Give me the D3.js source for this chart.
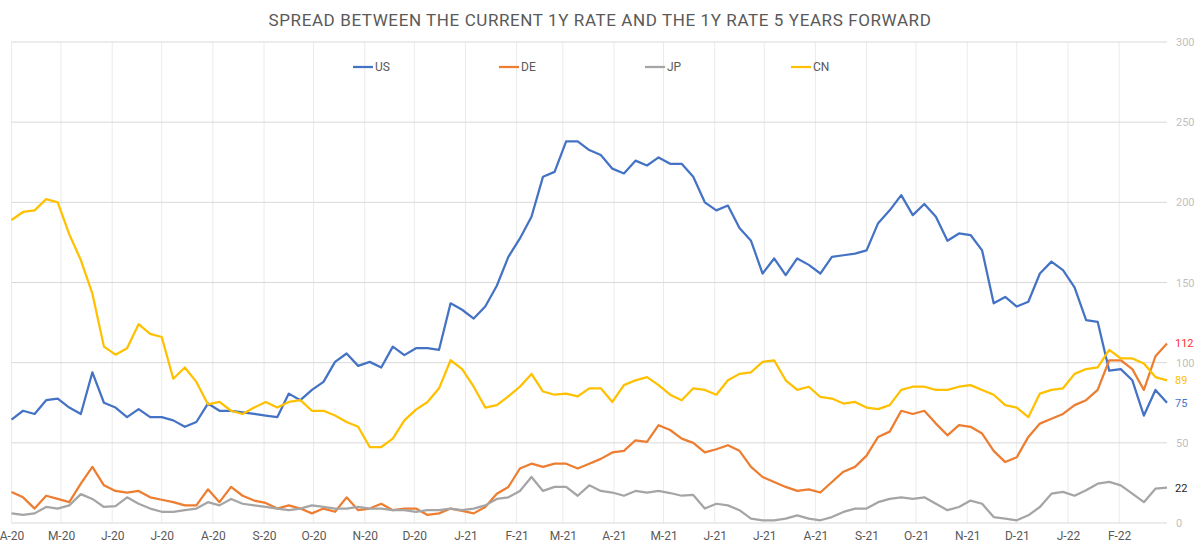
<!DOCTYPE html>
<html lang="en">
  <head>
    <meta charset="UTF-8" />
    <title>1Y vs 1Y5Y forward spread</title>
    <script src="https://d3js.org/d3.v7.min.js"></script>
    <style>
      body { margin: 0; background: #fff; }
      text { font-family: Roboto, "Noto Sans", sans-serif; }
    </style>
  </head>
  <body>
    <svg width="1200" height="549"></svg>
    <script>
      // weekly readings, starting 1 Apr 2020
      var startDate = new Date(2020, 3, 1);

      var us = [64.5, 70, 68, 76.6, 77.6, 72, 68, 94, 75, 72, 66, 71, 66, 66, 64, 60, 63, 74.5, 70, 70,
        69, 68, 67, 66, 80.7, 76.6, 83, 88, 100.5, 105.7, 98, 100.5, 97, 110, 104.7, 109, 109, 108, 137, 133,
        127.5, 135, 148, 166, 177.5, 191, 216, 219, 238, 238, 232.6, 229.5, 221, 218, 226, 223, 228, 224, 224, 216,
        200, 195, 198, 184, 176, 155.6, 165, 154.6, 165, 161, 155.6, 166, 167, 168, 170, 187, 195, 204.5, 192, 199,
        191, 176, 180.6, 179.6, 170, 137, 141, 135, 138, 155.6, 163, 157.7, 147, 126.5, 125.5, 95, 96, 89, 67, 83, 75];

      var de = [19.4, 16, 9, 17, 15, 13, 24.5, 35, 23.5, 20, 19, 20, 16, 14.5, 13, 11, 11, 21, 13, 22.5,
        17, 14, 12.5, 9, 11, 9, 6, 9, 7, 16, 8, 9, 12, 8, 9, 9, 5, 6, 9, 7.5,
        6, 10, 18.3, 22.5, 34, 37, 35, 37, 37, 34, 37, 40, 44, 45, 51.6, 50.6, 61, 58, 52.6, 50,
        44, 46, 48.5, 45, 35, 28.7, 25.6, 22.5, 20, 21, 19, 25.6, 32, 35, 42, 53.7, 57, 70, 68, 70,
        62, 54.7, 61, 60, 55.8, 45, 38, 41, 53.7, 62, 65, 68, 73.5, 76.6, 83, 101.5, 101.5, 96, 83, 104, 112];

      var jp = [6, 5, 6, 10, 9, 11, 18, 15, 10, 10.5, 16, 12, 9, 7, 7, 8, 9, 13, 11, 15,
        12, 11, 10, 9, 8, 9, 11, 10, 9, 9, 10, 9, 9, 8, 8, 7, 8, 8, 9, 8,
        9, 11, 15, 16, 20, 28.7, 20, 22.5, 22.5, 17, 23.5, 20, 19, 17, 20, 19, 20, 18.7, 17, 17.5,
        9, 12, 11, 8, 2.7, 1.7, 1.7, 2.7, 4.8, 2.7, 1.7, 3.7, 6.9, 9, 9, 13, 15, 16, 15, 16,
        12, 8, 10, 14, 12, 3.7, 2.7, 1.7, 4.8, 10, 18.3, 19.4, 17, 20.4, 24.5, 25.6, 23.5, 18.3, 13, 21.4, 22];

      var cn = [189, 194, 195, 202, 200, 180, 164, 143, 110, 105, 109, 124, 118, 116, 90, 97, 88, 74, 75.5, 70,
        68, 72, 75.5, 72, 75.5, 76.6, 70, 70, 67, 63, 60, 47.4, 47.4, 52.6, 64, 70.7, 75.5, 84, 101.5, 96,
        85, 72, 73.5, 79, 85, 93, 82, 80, 80.7, 79, 84, 84, 75.5, 86, 89, 91, 86, 80, 76.6, 84,
        83, 80, 89, 93, 94, 100.5, 101.5, 89, 83, 85, 78.6, 77.6, 74.5, 75.5, 72, 71, 73.5, 83, 85, 85,
        83, 83, 85, 86, 83, 80, 73.5, 72, 66, 80.7, 83, 84, 93, 96, 97, 108, 102.6, 102.6, 99.5, 91, 89];

      var seriesNames = ["US", "DE", "JP", "CN"];
      var seriesColors = ["#4472c4", "#ed7d31", "#a5a5a5", "#ffc000"];
      var endLabelColors = ["#4472c4", "#ff2e2e", "#262626", "#ffc000"];
      var yTicks = [0, 50, 100, 150, 200, 250, 300];

      var dates = us.map((d, i) => d3.timeDay.offset(startDate, 7 * i));
      var series = [us, de, jp, cn].map((vals, i) => ({
        name: seriesNames[i],
        color: seriesColors[i],
        labelColor: endLabelColors[i],
        values: vals.map((v, j) => ({ date: dates[j], value: v }))
      }));

      var plotL = 11.5, plotR = 1167, plotT = 42, plotB = 523;

      var x = d3.scaleTime()
        .domain([startDate, d3.timeDay.offset(startDate, 700)])
        .range([plotL, plotR]);
      var y = d3.scaleLinear().domain([0, 300]).range([plotB, plotT]);

      const svg = d3.select("svg");

      // title
      svg.append("text")
        .attr("x", 600)
        .attr("y", 26)
        .attr("text-anchor", "middle")
        .attr("font-size", 17)
        .attr("letter-spacing", 0.6)
        .attr("fill", "#595959")
        .text("SPREAD BETWEEN THE CURRENT 1Y RATE AND THE 1Y RATE 5 YEARS FORWARD");

      var months = d3.timeMonth.range(startDate, new Date(2022, 2, 1));

      // vertical grid
      svg.append("g")
        .selectAll("line")
        .data(months)
        .join("line")
        .attr("x1", d => x(d))
        .attr("x2", d => x(d))
        .attr("y1", plotT)
        .attr("y2", plotB)
        .attr("stroke", "#ebebeb");

      // horizontal grid
      svg.append("g")
        .selectAll("line")
        .data(yTicks)
        .join("line")
        .attr("x1", plotL)
        .attr("x2", plotR)
        .attr("y1", d => y(d))
        .attr("y2", d => y(d))
        .attr("stroke", "#d9d9d9");

      // x axis
      var fmt = d3.timeFormat("%b");
      var fmtY = d3.timeFormat("%y");
      const xAxis = d3.axisBottom(x)
        .tickValues(months)
        .tickSize(0)
        .tickPadding(8)
        .tickFormat(d => fmt(d)[0] + "-" + fmtY(d));
      const gx = svg.append("g")
        .attr("transform", `translate(0,${plotB})`)
        .call(xAxis);
      gx.select(".domain").remove();
      gx.selectAll("text")
        .attr("font-family", "Roboto, sans-serif")
        .attr("font-size", 12)
        .attr("fill", "#595959");

      // y axis on the right
      const yAxis = d3.axisRight(y).tickValues(yTicks).tickSize(0).tickPadding(9);
      const gy = svg.append("g")
        .attr("transform", `translate(${plotR},0)`)
        .call(yAxis);
      gy.select(".domain").remove();
      gy.selectAll("text")
        .attr("font-family", "Roboto, sans-serif")
        .attr("font-size", 11)
        .attr("fill", "#bfbfbf");

      // lines
      var line = d3.line()
        .x(d => x(d.date))
        .y(d => y(d.value));

      svg.append("g")
        .selectAll("path")
        .data(series)
        .join("path")
        .attr("d", d => line(d.values))
        .attr("fill", "none")
        .attr("stroke", d => d.color)
        .attr("stroke-width", 2.25)
        .attr("stroke-linejoin", "round");

      // end labels
      svg.append("g")
        .selectAll("text")
        .data(series)
        .join("text")
        .attr("x", plotR + 8)
        .attr("y", d => y(d.values[d.values.length - 1].value))
        .attr("dy", "0.35em")
        .attr("font-size", 11)
        .attr("fill", d => d.labelColor)
        .text(d => Math.round(d.values[d.values.length - 1].value));

      // legend
      var legendX = [353, 499, 645, 791];
      const legend = svg.append("g")
        .selectAll("g")
        .data(series)
        .join("g")
        .attr("transform", (d, i) => `translate(${legendX[i]},67)`);
      legend.append("line")
        .attr("x1", 0)
        .attr("x2", 20)
        .attr("stroke", d => d.color)
        .attr("stroke-width", 2.25);
      legend.append("text")
        .attr("x", 22)
        .attr("dy", "0.35em")
        .attr("font-size", 12)
        .attr("fill", "#595959")
        .text(d => d.name);
    </script>
  </body>
</html>
